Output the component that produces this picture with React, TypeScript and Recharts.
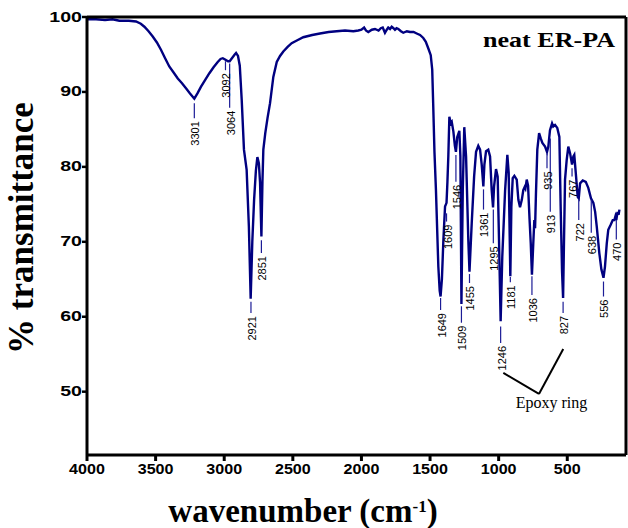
import { LineChart, Line, XAxis, YAxis, ReferenceLine, ReferenceDot, Label } from 'recharts';

// spectrum (true wavenumber, % transmittance)
const wavenumber = [
  4015, 3960, 3900, 3850, 3804, 3740, 3692, 3660, 3636, 3608, 3580, 3552, 3524, 3497, 3469, 3440, 3412, 3385, 3357, 3330,
  3301, 3280, 3256, 3228, 3200, 3172, 3144, 3125, 3110, 3092, 3075, 3064, 3045, 3030, 3021, 3008, 2996, 2983, 2968, 2950,
  2935, 2923, 2912, 2900, 2888, 2878, 2868, 2860, 2851, 2844, 2838, 2825, 2810, 2793, 2771, 2748, 2726, 2704, 2675, 2648,
  2610, 2570, 2510, 2458, 2400, 2346, 2290, 2234, 2201, 2180, 2162, 2150, 2134, 2110, 2089, 2065, 2050, 2037, 2022, 2010,
  2000, 1988, 1977, 1965, 1955, 1944, 1932, 1915, 1899, 1875, 1854, 1830, 1809, 1787, 1765, 1748, 1731, 1715, 1705, 1698,
  1690, 1680, 1664, 1655, 1649, 1640, 1630, 1619, 1609, 1603, 1597, 1590, 1581, 1574, 1563, 1553, 1546, 1537, 1523, 1516,
  1509, 1500, 1490, 1478, 1463, 1455, 1440, 1424, 1411, 1396, 1384, 1373, 1362, 1355, 1344, 1329, 1317, 1306, 1297, 1290,
  1277, 1266, 1257, 1246, 1235, 1216, 1201, 1192, 1181, 1174, 1165, 1154, 1138, 1127, 1116, 1104, 1094, 1085, 1080, 1071,
  1062, 1052, 1044, 1036, 1027, 1020, 1015, 1009, 1000, 988, 977, 966, 948, 935, 926, 915, 901, 893, 881, 866,
  852, 843, 834, 827, 821, 814, 803, 792, 780, 767, 758, 752, 742, 729, 722, 713, 695, 675, 658, 640,
  624, 612, 601, 584, 570, 556, 546, 534, 524, 507, 494, 483, 476, 470, 462, 455, 449,
];
const transmittance = [
  99.7, 99.7, 99.6, 99.7, 99.5, 99.5, 99.4, 99.1, 98.7, 98.1, 97.4, 96.6, 95.6, 94.5, 93.4, 92.6, 91.8, 91.2, 90.5, 89.8,
  89.1, 89.8, 90.7, 91.6, 92.5, 93.3, 94.0, 94.4, 94.5, 94.3, 94.1, 94.1, 94.6, 95.0, 95.2, 94.8, 93.5, 88.9, 82.3, 79.6,
  72.0, 62.4, 70.0, 75.6, 79.5, 81.3, 80.5, 77.9, 70.7, 78.0, 82.3, 84.5, 86.5, 88.5, 92.0, 94.0, 94.8, 95.4, 96.0, 96.5,
  96.9, 97.3, 97.6, 97.8, 98.0, 98.1, 98.2, 98.1, 98.2, 98.3, 98.6, 98.2, 98.0, 98.3, 98.4, 98.2, 98.5, 98.6, 97.9, 98.3,
  98.6, 98.4, 98.7, 98.5, 98.3, 98.5, 98.4, 98.1, 97.9, 98.1, 98.0, 98.0, 97.8, 97.6, 97.2, 96.7, 95.8, 94.9, 93.0, 88.0,
  82.0, 76.9, 66.7, 63.5, 62.7, 65.0, 70.3, 74.7, 75.2, 78.0, 81.4, 86.7, 85.8, 86.0, 84.7, 82.8, 82.0, 84.0, 84.8, 81.4,
  61.7, 76.9, 85.3, 81.4, 70.3, 66.0, 72.5, 78.7, 82.0, 82.8, 82.3, 80.3, 77.4, 80.3, 82.1, 82.3, 81.4, 76.9, 74.6, 77.4,
  79.7, 78.7, 70.3, 59.4, 68.0, 76.9, 81.6, 79.2, 65.4, 74.7, 78.5, 78.8, 78.3, 75.6, 74.6, 75.6, 76.9, 77.3, 77.1, 78.3,
  77.5, 73.0, 69.8, 65.6, 69.8, 72.9, 71.8, 76.5, 82.3, 84.5, 83.8, 83.2, 82.7, 82.0, 82.7, 84.9, 85.8, 85.4, 85.6, 85.2,
  84.0, 74.3, 66.0, 62.5, 70.0, 78.3, 80.9, 82.7, 81.8, 80.3, 81.4, 81.6, 79.2, 76.0, 75.8, 77.8, 78.2, 78.0, 77.2, 75.8,
  75.2, 74.0, 72.0, 68.5, 66.3, 65.2, 66.7, 69.8, 71.6, 72.3, 72.9, 72.9, 73.4, 72.9, 74.0, 73.6, 74.3,
];

const bottomTicks = [4000, 3500, 3000, 2500, 2000, 1500, 1000, 500];
const topTicks = [3500, 3000, 2500, 2000, 1500, 1000, 500];
const yTicks = [50, 60, 70, 80, 90, 100];

// peak annotations: label, position, leader line from/to (% T)
const peakLabels = ['3301', '3092', '3064', '2921', '2851', '1649', '1609', '1546', '1509', '1455', '1361', '1295', '1246', '1181', '1036', '935', '913', '827', '767', '722', '638', '556', '470'];
const peakWn = [3301, 3092, 3064, 2921, 2851, 1649, 1609, 1546, 1509, 1455, 1361, 1295, 1246, 1181, 1036, 935, 913, 827, 767, 722, 638, 556, 470];
const peakFrom = [88.5, 94.1, 93.8, 62.0, 70.2, 62.5, 73.8, 81.6, 61.4, 65.7, 77.0, 74.3, 58.7, 65.3, 65.4, 81.8, 83.8, 62.0, 79.8, 75.6, 75.6, 64.7, 72.9];
const peakTo = [86.5, 92.9, 87.9, 60.5, 68.5, 60.9, 72.7, 78.0, 59.2, 64.5, 74.3, 69.8, 56.5, 64.6, 62.9, 79.8, 74.0, 60.5, 78.7, 72.9, 71.2, 62.7, 70.3];

const epoxyWn = [1228, 989, 826];
const epoxyT = [52.5, 49.7, 55.7];

const data = wavenumber.map((wn, i) => ({ wn, t: transmittance[i] }));

const SANS = 'Arial, "Liberation Sans", sans-serif';
const SERIF = '"Times New Roman", "Liberation Serif", serif';
const NAVY = '#000080';

function BottomTick({ x, y, payload }: any) {
  return (
    <g transform={`translate(${x},${y})`}>
      <text x={0} y={12.5} textAnchor="middle" transform="scale(1.15,1)" fontFamily={SANS} fontWeight="bold" fontSize={14} fill="#000">
        {payload.value}
      </text>
    </g>
  );
}

function LeftTick({ x, y, payload }: any) {
  return (
    <g transform={`translate(${x},${y})`}>
      <text x={0} y={0} textAnchor="end" dominantBaseline="central" transform="scale(1.4,1)" fontFamily={SANS} fontWeight="bold" fontSize={14} fill="#000">
        {payload.value}
      </text>
    </g>
  );
}

export default function App() {
  return (
    <div style={{ position: 'absolute', left: 0, top: 0, background: '#fff' }}>
      <LineChart width={628} height={528} data={data} margin={{ top: 12, right: 1, bottom: 0, left: 0 }}>
        <XAxis
          xAxisId="bottom"
          dataKey="wn"
          type="number"
          domain={[72, 4000]}
          reversed
          allowDataOverflow
          ticks={bottomTicks}
          height={73}
          tickSize={6}
          tickMargin={0}
          tick={<BottomTick />}
          axisLine={{ stroke: '#000', strokeWidth: 3 }}
          tickLine={{ stroke: '#000', strokeWidth: 3 }}
          label={
            <Label
              content={() => (
                <text x={303} y={522} textAnchor="middle" fontFamily={SERIF} fontWeight="bold" fontSize={33} fill="#000">
                  wavenumber (cm<tspan dy={-10} fontSize={17}>-1</tspan><tspan dy={10}>)</tspan>
                </text>
              )}
            />
          }
        />
        <XAxis
          xAxisId="top"
          orientation="top"
          dataKey="wn"
          type="number"
          domain={[405, 4021]}
          reversed
          allowDataOverflow
          ticks={topTicks}
          height={5}
          tickSize={3}
          tick={false}
          axisLine={{ stroke: '#000', strokeWidth: 3 }}
          tickLine={{ stroke: '#000', strokeWidth: 1.5 }}
        />
        <YAxis
          yAxisId="left"
          type="number"
          domain={[41.55, 100]}
          allowDataOverflow
          ticks={yTicks}
          width={87}
          tickSize={5}
          tickMargin={0}
          tick={<LeftTick />}
          axisLine={{ stroke: '#000', strokeWidth: 3 }}
          tickLine={{ stroke: '#000', strokeWidth: 2.5 }}
          label={
            <Label
              content={() => (
                <text x={33} y={228} transform="rotate(-90 33 228)" textAnchor="middle" fontFamily={SERIF} fontWeight="bold" fontSize={35} fill="#000">
                  % transmittance
                </text>
              )}
            />
          }
        />
        <YAxis
          yAxisId="right"
          orientation="right"
          type="number"
          domain={[41.55, 100]}
          allowDataOverflow
          width={1}
          tick={false}
          tickLine={false}
          axisLine={{ stroke: '#000', strokeWidth: 3 }}
        />

        {/* invisible series so the printed (bottom) axis gets a scale */}
        <Line
          xAxisId="bottom"
          yAxisId="right"
          type="linear"
          dataKey="t"
          stroke="none"
          strokeOpacity={0}
          dot={false}
          activeDot={false}
          legendType="none"
          isAnimationActive={false}
        />
        <Line
          xAxisId="top"
          yAxisId="left"
          type="linear"
          dataKey="t"
          stroke={NAVY}
          strokeWidth={2.4}
          dot={false}
          isAnimationActive={false}
        />

        {peakLabels.map((lab, i) => (
          <ReferenceLine
            key={'l' + lab}
            xAxisId="top"
            yAxisId="left"
            segment={[{ x: peakWn[i], y: peakFrom[i] }, { x: peakWn[i], y: peakTo[i] }]}
            stroke="#1c1c96"
            strokeWidth={1.2}
          />
        ))}
        {peakLabels.map((lab, i) => (
          <ReferenceDot
            key={'t' + lab}
            xAxisId="top"
            yAxisId="left"
            x={peakWn[i]}
            y={peakTo[i]}
            r={0}
            shape={(p: any) => (
              <text
                x={p.cx + 1}
                y={p.cy + 3}
                transform={`rotate(-90 ${p.cx + 1} ${p.cy + 3})`}
                textAnchor="end"
                dominantBaseline="central"
                fontFamily={SANS}
                fontSize={11}
                fill="#000"
              >
                {lab}
              </text>
            )}
          />
        ))}

        <ReferenceLine
          xAxisId="top"
          yAxisId="left"
          segment={[{ x: epoxyWn[0], y: epoxyT[0] }, { x: epoxyWn[1], y: epoxyT[1] }]}
          stroke="#000"
          strokeWidth={2}
        />
        <ReferenceLine
          xAxisId="top"
          yAxisId="left"
          segment={[{ x: epoxyWn[1], y: epoxyT[1] }, { x: epoxyWn[2], y: epoxyT[2] }]}
          stroke="#000"
          strokeWidth={2}
        />
        <ReferenceDot
          xAxisId="top"
          yAxisId="left"
          x={1145}
          y={47.8}
          r={0}
          shape={(p: any) => (
            <text x={p.cx} y={p.cy} fontFamily={SERIF} fontSize={16} fill="#000">
              Epoxy ring
            </text>
          )}
        />
        <ReferenceDot
          xAxisId="top"
          yAxisId="left"
          x={479}
          y={96.0}
          r={0}
          shape={(p: any) => (
            <text x={p.cx} y={p.cy} textAnchor="end" fontFamily={SERIF} fontWeight="bold" fontSize={22} textLength={132} lengthAdjust="spacingAndGlyphs" fill="#000">
              neat ER-PA
            </text>
          )}
        />
      </LineChart>
    </div>
  );
}
